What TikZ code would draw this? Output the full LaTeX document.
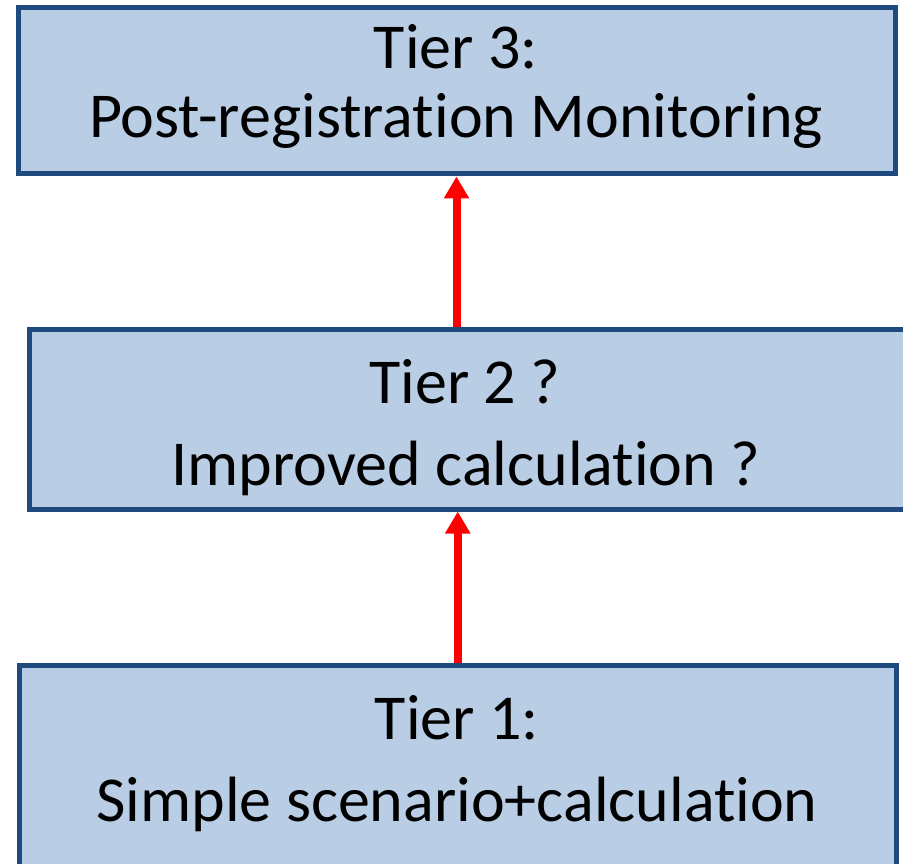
\documentclass[tikz,border=0pt]{standalone}
\usepackage{fontspec}
\setmainfont{Carlito}[Ligatures=NoCommon]
\usetikzlibrary{arrows.meta}
\definecolor{boxfill}{HTML}{B9CDE5}
\definecolor{boxline}{HTML}{1F4A7D}
\begin{document}
\begin{tikzpicture}[x=1pt, y=-1pt,
                    tierbox/.style={draw=boxline, fill=boxfill, line width=5pt, rectangle, inner sep=0pt},
                    tiertext/.style={anchor=base, inner sep=0pt, font=\fontsize{64}{69}\selectfont},
                    uparrow/.style={draw=red, line width=8pt, -{Triangle[width=24pt,length=22pt]}}
                    ]
                    \useasboundingbox (0,0) rectangle (903,864);
                    \clip (0,0) rectangle (903,864);

                    \node[tierbox, minimum width=877, minimum height=166] (tier3) at (456.5,91) {};
                    \node[tierbox, minimum width=880.5, minimum height=180] (tier2) at (469.75,419) {};
                    \node[tierbox, minimum width=876.5, minimum height=215] (tier1) at (457.75,772.5) {};

                    \node[tiertext] (tier3a) at (456,69) {Tier 3:};
                    \node[tiertext] (tier3b) at (456,138) {Post-registration Monitoring};
                    \node[tiertext] (tier2a) at (465,403) {Tier 2 ?};
                    \node[tiertext] (tier2b) at (466,485) {Improved calculation ?};
                    \node[tiertext] (tier1a) at (457,739) {Tier 1:};
                    \node[tiertext] (tier1b) at (457,821) {Simple scenario+calculation};

                    \draw[uparrow] (tier2.north -| tier3.south) -- (tier3.south);
                    \draw[uparrow] (tier1.north) -- (tier1.north |- tier2.south);
                \end{tikzpicture}
\end{document}
